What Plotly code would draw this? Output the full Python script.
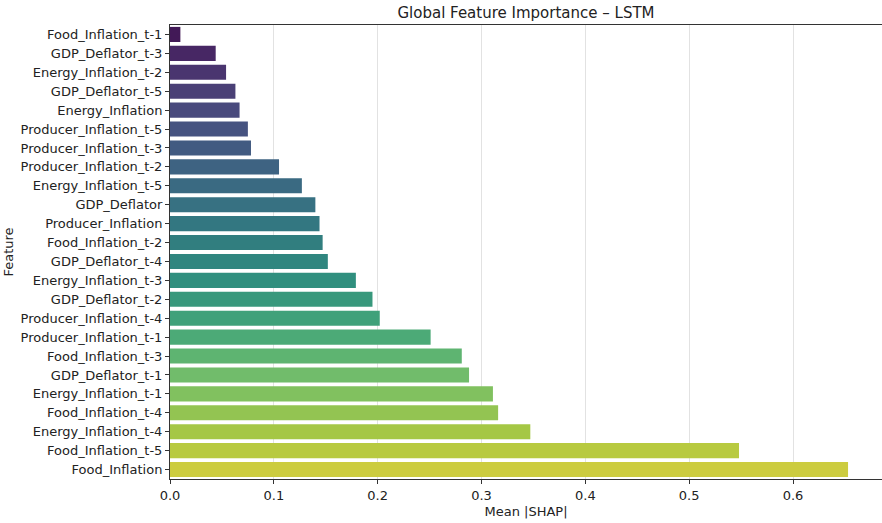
import colorsys
import numpy as np
import plotly.graph_objects as go
from plotly.colors import sample_colorscale, unlabel_rgb

features = [
    "Food_Inflation_t-1", "GDP_Deflator_t-3", "Energy_Inflation_t-2", "GDP_Deflator_t-5",
    "Energy_Inflation", "Producer_Inflation_t-5", "Producer_Inflation_t-3", "Producer_Inflation_t-2",
    "Energy_Inflation_t-5", "GDP_Deflator", "Producer_Inflation", "Food_Inflation_t-2",
    "GDP_Deflator_t-4", "Energy_Inflation_t-3", "GDP_Deflator_t-2", "Producer_Inflation_t-4",
    "Producer_Inflation_t-1", "Food_Inflation_t-3", "GDP_Deflator_t-1", "Energy_Inflation_t-1",
    "Food_Inflation_t-4", "Energy_Inflation_t-4", "Food_Inflation_t-5", "Food_Inflation",
]
mean_shap = [
    0.010, 0.044, 0.054, 0.063, 0.067, 0.075, 0.078, 0.105,
    0.127, 0.140, 0.144, 0.147, 0.152, 0.179, 0.195, 0.202,
    0.251, 0.281, 0.288, 0.311, 0.316, 0.347, 0.548, 0.653,
]

n = len(features)
pos = list(np.linspace(0, 1, n + 2)[1:-1])
raw = sample_colorscale("Viridis", pos)
colors = []
for c in raw:
    r, g, b = [v / 255 for v in unlabel_rgb(c)]
    h, l, s = colorsys.rgb_to_hls(r, g, b)
    r, g, b = colorsys.hls_to_rgb(h, l, s * 0.75)
    colors.append(f"rgb({r*255:.0f},{g*255:.0f},{b*255:.0f})")

font = "DejaVu Sans, Liberation Sans, sans-serif"
fig = go.Figure(go.Bar(
    x=mean_shap, y=features, orientation="h",
    marker=dict(color=colors, line=dict(width=0)),
    width=0.8,
))
fig.update_layout(
    width=882, height=523,
    margin=dict(l=170, r=0, t=25, b=44, autoexpand=False),
    plot_bgcolor="white", paper_bgcolor="white",
    font=dict(family=font, size=13, color="#222"),
    title=dict(text="Global Feature Importance – LSTM", x=0.5, xref="paper",
               y=1 - 12.5 / 523, yanchor="middle",
               font=dict(size=15, color="#222")),
    showlegend=False,
)
fig.update_xaxes(
    range=[0, 0.6857], tick0=0, dtick=0.1, tickformat=".1f",
    showgrid=True, gridcolor="rgba(190,190,190,0.45)", gridwidth=1,
    zeroline=False, showline=True, linecolor="#333", linewidth=1, mirror=True,
    ticks="outside", ticklen=4, tickcolor="#333",
    title=dict(text="Mean |SHAP|", standoff=5, font=dict(size=13)),
    layer="above traces", automargin=False,
)
fig.update_yaxes(
    categoryorder="array", categoryarray=features, autorange="reversed",
    range=[n - 0.5, -0.5],
    showgrid=False, zeroline=False, showline=True, linecolor="#333", linewidth=1, mirror=True,
    ticks="outside", ticklen=4, tickcolor="#333",
    title=dict(text="Feature", standoff=4, font=dict(size=13)),
    automargin=False,
)
fig.write_html("out.html", config={"displayModeBar": False},
               post_script="document.body.style.margin='0';document.body.style.overflow='hidden';")
